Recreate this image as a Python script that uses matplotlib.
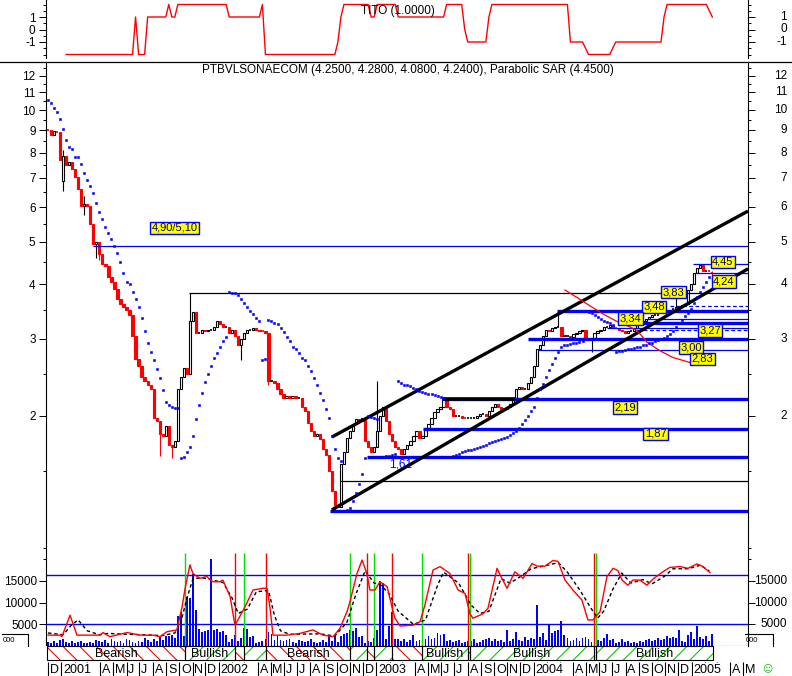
import datetime as dt
import matplotlib
matplotlib.use("Agg")
import matplotlib.pyplot as plt
import matplotlib.transforms as mtransforms
from matplotlib.patches import Rectangle
from matplotlib.lines import Line2D
from matplotlib.ticker import FixedLocator, NullFormatter, NullLocator, FixedFormatter
from matplotlib import font_manager as fm

_names = {f.name for f in fm.fontManager.ttflist}
NARROW = "Liberation Sans Narrow" if "Liberation Sans Narrow" in _names else "Liberation Sans"
plt.rcParams["font.family"] = [NARROW, "DejaVu Sans"]
plt.rcParams["hatch.linewidth"] = 0.8

# ---------------------------------------------------------------- data
start_date = dt.date(2000, 12, 1)          # week index 0 (weekly bars)
end_label_date = dt.date(2005, 5, 1)

closes = [
    9.0, 8.8, 8.95, 8.9, 7.7, 7.85, 7.5, 7.6, 7.35, 7.05,
    6.6, 6.05, 6.1, 6.05, 5.5, 4.95, 5.0, 4.7, 4.45, 4.4,
    4.15, 4.05, 3.9, 3.7, 3.6, 3.55, 3.5, 3.4, 3.05, 2.7,
    2.6, 2.45, 2.4, 2.35, 2.3, 1.98, 1.95, 1.82, 1.8, 1.9,
    1.72, 1.7, 1.75, 2.3, 2.45, 2.57, 2.5, 3.3, 3.45, 3.1,
    3.1, 3.15, 3.12, 3.15, 3.15, 3.2, 3.3, 3.25, 3.2, 3.2,
    3.1, 3.15, 3.05, 2.9, 3.0, 3.1, 3.15, 3.15, 3.17, 3.15,
    3.13, 3.12, 3.1, 2.4, 2.4, 2.38, 2.3, 2.25, 2.2, 2.22,
    2.2, 2.22, 2.2, 2.2, 2.1, 2.05, 1.93, 1.85, 1.8, 1.82,
    1.77, 1.68, 1.63, 1.5, 1.35, 1.25, 1.24, 1.55, 1.65, 1.78,
    1.85, 1.92, 1.97, 1.95, 1.98, 1.75, 1.7, 1.65, 1.7, 1.85,
    2.0, 2.1, 1.95, 1.82, 1.75, 1.7, 1.68, 1.64, 1.68, 1.72,
    1.75, 1.8, 1.85, 1.78, 1.8, 1.88, 1.92, 1.98, 2.04, 2.07,
    2.1, 2.2, 2.1, 2.08, 2.0, 2.0, 2.0, 1.98, 1.97, 1.98,
    1.98, 1.98, 2.0, 2.02, 2.02, 2.0, 2.05, 2.1, 2.13, 2.1,
    2.07, 2.08, 2.1, 2.13, 2.2, 2.3, 2.33, 2.3, 2.31, 2.38,
    2.45, 2.6, 2.85, 2.9, 3.05, 3.15, 3.12, 3.18, 3.2, 3.2,
    3.05, 3.05, 3.05, 3.03, 3.08, 3.1, 3.12, 3.15, 3.0, 3.0,
    3.0, 3.1, 3.12, 3.15, 3.2, 3.2, 3.22, 3.18, 3.17, 3.15,
    3.12, 3.1, 3.12, 3.12, 3.18, 3.22, 3.28, 3.3, 3.33, 3.36,
    3.4, 3.4, 3.42, 3.44, 3.45, 3.47, 3.5, 3.52, 3.55, 3.55,
    3.58, 3.6, 3.88, 4.0, 4.25, 4.35, 4.42, 4.3, 4.3, 4.28,
    4.24,
]
open_overrides = {0: 9.05, 5: 6.9, 220: 4.25}
high_overrides = {5: 8.1, 12: 6.35, 47: 3.83, 109: 2.4, 169: 3.48, 208: 3.83, 216: 4.45, 220: 4.28}
low_overrides = {5: 6.55, 12: 5.75, 16: 4.6, 17: 4.55, 37: 1.62, 41: 1.6, 64: 2.68,
                 73: 2.35, 95: 1.21, 180: 2.8, 220: 4.08}

sar = [
    10.55, 10.4, 10.1, 9.9, 9.55, 9.06, 8.55, 8.24, 8.15, 7.82,
    7.82, 7.53, 7.19, 6.93, 6.71, 6.47, 6.14, 5.85, 5.64, 5.41,
    5.24, 5.08, 4.89, 4.72, 4.50, 4.25, 4.05, 4.0, 3.84, 3.70,
    3.55, 3.35, 3.13, 2.94, 2.80, 2.69, 2.56, 2.44, 2.29, 2.15,
    2.12, 2.10, 2.09, 2.09, 1.60, 1.61, 1.65, 1.70, 1.80, 1.97,
    2.12, 2.26, 2.39, 2.50, 2.60, 2.71, 2.79, 2.88, 2.96, 3.03,
    3.84, 3.83, 3.82, 3.79, 3.70, 3.63, 3.55, 3.47, 3.42, 3.35,
    3.30, 2.69, 2.70, 3.31, 3.30, 3.27, 3.24, 3.18, 3.11, 3.03,
    2.97, 2.88, 2.85, 2.79, 2.72, 2.69, 2.60, 2.53, 2.44, 2.36,
    2.26, 2.18, 2.08, 1.98, 1.80, 1.68, 1.60, 1.58, 1.21, 1.22,
    1.23, 1.28, 1.33, 1.40, 1.47, 1.60, 2.00, 1.99, 1.98, 1.97,
    1.61, 1.61, 1.62, 1.62, 1.63, 1.64, 2.40, 2.38, 2.36, 2.35,
    2.34, 2.32, 2.30, 2.28, 2.27, 2.26, 2.25, 2.24, 2.23, 2.22,
    2.21, 2.20, 1.61, 1.61, 1.62, 1.63, 1.64, 1.65, 1.66, 1.67,
    1.67, 1.68, 1.69, 1.70, 1.71, 1.72, 1.73, 1.74, 1.75, 1.76,
    1.77, 1.78, 1.79, 1.81, 1.83, 1.85, 1.88, 1.92, 1.96, 2.00,
    2.05, 2.10, 2.20, 2.30, 2.37, 2.45, 2.55, 2.63, 2.72, 2.80,
    2.88, 2.90, 2.91, 2.92, 2.93, 2.94, 2.95, 2.96, 3.48, 3.46,
    3.43, 3.40, 3.37, 3.33, 3.30, 3.28, 3.26, 3.23, 2.80, 2.81,
    2.82, 2.83, 2.84, 2.85, 2.86, 2.87, 2.88, 2.90, 2.91, 2.93,
    2.94, 2.96, 2.98, 3.00, 3.02, 3.04, 3.08, 3.12, 3.20, 3.27,
    3.32, 3.38, 3.44, 3.52, 3.62, 3.75, 3.85, 3.95, 4.05, 4.15,
    4.45,
]

volume_k = [
    1.0, 0.8, 1.2, 0.6, 1.4, 1.6, 0.9, 0.7, 1.1, 0.8,
    0.9, 1.2, 0.7, 0.6, 1.0, 0.8, 1.4, 1.1, 0.9, 1.3,
    0.8, 1.5, 1.2, 0.9, 1.1, 0.7, 1.6, 1.3, 1.0, 0.8,
    1.2, 1.0, 1.8, 1.4, 0.9, 1.6, 1.1, 2.0, 1.3, 2.4,
    2.2, 2.6, 1.8, 7.0, 7.9, 2.3, 11.4, 11.1, 16.6, 8.4,
    3.9, 3.3, 3.5, 3.8, 20.0, 3.6, 4.0, 3.2, 3.4, 2.6,
    1.0, 1.5, 2.6, 1.2, 1.8, 4.2, 3.9, 2.0, 2.3, 0.6,
    0.9, 1.2, 1.6, 3.2, 2.8, 1.4, 2.4, 1.3, 1.1, 1.4,
    1.6, 1.0, 0.8, 1.3, 1.2, 0.9, 1.1, 1.6, 1.0, 0.8,
    0.9, 1.3, 1.0, 2.2, 1.1, 2.2, 1.0, 2.3, 2.8, 3.0,
    3.7, 3.4, 4.1, 2.0, 2.2, 0.8, 1.2, 1.0, 1.8, 3.7,
    15.0, 14.6, 1.5, 4.6, 7.8, 1.7, 1.7, 1.2, 1.5, 1.0,
    1.4, 2.5, 1.1, 1.3, 0.9, 1.6, 2.2, 1.5, 1.9, 3.0,
    2.5, 2.7, 1.1, 1.4, 0.9, 1.2, 1.4, 0.8, 1.0, 1.1,
    1.2, 1.6, 0.8, 0.9, 1.3, 1.6, 1.8, 1.1, 1.7, 1.2,
    1.4, 1.0, 3.7, 1.2, 1.6, 3.3, 1.4, 1.1, 2.0, 1.3,
    1.8, 1.5, 9.4, 2.0, 2.9, 1.4, 4.8, 3.1, 3.5, 3.8,
    5.8, 2.5, 1.8, 1.2, 1.4, 1.8, 1.1, 1.9, 2.1, 1.6,
    1.0, 1.2, 1.4, 1.2, 1.8, 2.7, 1.3, 1.6, 0.8, 1.0,
    1.6, 0.9, 1.2, 0.7, 0.9, 0.8, 1.2, 1.0, 1.4, 1.6,
    1.2, 1.4, 1.8, 1.3, 1.5, 2.3, 1.9, 2.1, 1.8, 3.8,
    1.2, 1.0, 2.6, 3.3, 1.5, 4.6, 2.0, 1.7, 2.4, 1.2,
    2.8,
]

tito_first_week = 6
tito = (
    [-2, -2, -2, -2, -2, -2, -2, -2, -2, -2, -2, -2, -2, -2, -2, -2, -2, -2, -2, -2, -2, -2, -2]
    + [1]
    + [-2, -2, -2]
    + [1, 1, 1, 1, 1, 1, 1]
    + [2]
    + [1, 1]
    + [2, 2, 2, 2, 2, 2, 2, 2, 2, 2, 2, 2, 2, 2, 2, 2, 2]
    + [1, 1, 1, 1, 1, 1, 1, 1, 1, 1, 1]
    + [2]
    + [-2, -2, -2, -2, -2, -2, -2, -2, -2, -2, -2, -2, -2, -2, -2, -2, -2, -2, -2, -2, -2, -2, -2, -2]
    + [-1, 1]
    + [2, 2, 2, 2, 2, 2, 2, 2, 2]
    + [1, 1]
    + [2, 2, 2, 2, 2, 2, 2]
    + [1, 1, 1, 1, 1, 1, 1, 1, 1, 1, 1, 1, 1, 1, 1, 1]
    + [2, 2, 2, 2, 2, 2]
    + [0]
    + [-1, -1, -1, -1, -1, -1, -1]
    + [1]
    + [2, 2, 2, 2, 2, 2, 2, 2, 2, 2, 2, 2, 2, 2, 2, 2, 2, 2, 2, 2, 2, 2, 2, 2, 2, 2]
    + [-1, -1, -1, -1, -1]
    + [-1.5]
    + [-2, -2, -2, -2, -2, -2, -2, -2]
    + [-1.5]
    + [-1, -1, -1, -1, -1, -1, -1, -1, -1, -1, -1, -1, -1, -1, -1, -1]
    + [1]
    + [2, 2, 2, 2, 2, 2, 2, 2, 2, 2, 2, 2, 2, 2]
    + [1.5, 1]
)

osc_weeks = [0, 4, 4.6, 7.3, 9.6, 17.2, 18.2, 20.5, 26.2, 30.5, 34.8, 37.1, 39.4, 42.7, 44.4,
             45.4, 47, 48, 50.3, 52.6, 54.6, 56.9, 57.9, 60.3, 61.9, 62.9, 65.2, 67.9, 71.2, 72.5,
             73.5, 74.5, 79.1, 83.4, 87.7, 91.1, 94.4, 96.7, 99, 100, 102.3, 104, 105.6, 106.6, 108.3,
             109.9, 112.3, 113.9, 114.9, 116.6, 120.9, 123.2, 124.8, 127.5, 129.8, 133.1, 135.8, 138.1,
             139.7, 140.7, 144, 145.7, 148.7, 149.7, 152, 154.6, 157.3, 160.3, 161.9, 164.6, 167.2,
             168.9, 171.2, 173.8, 176.8, 178.8, 180.5, 182.8, 185.1, 187.1, 188.7, 190.1, 192, 193.7,
             196, 198.3, 200.3, 203.6, 205.9, 209.3, 211.9, 214.9, 216.9, 219.2]
osc_k = [2.5, 2.5, 2.15, 7.1, 2.5, 2.5, 3.1, 2.15, 3.1, 2.5, 2.5, 2.15, 3.3, 3.7, 9.0,
         13.3, 18.7, 16.7, 15.6, 16.0, 14.8, 14.8, 15.2, 11.4, 4.8, 6.0, 9.0, 12.9, 13.3, 13.3,
         9.0, 2.5, 2.5, 2.9, 3.7, 2.5, 2.15, 4.1, 7.9, 10.2, 16.7, 19.8, 16.7, 12.9, 12.9,
         14.8, 13.7, 9.0, 6.4, 4.6, 4.8, 5.6, 9.4, 17.5, 18.3, 16.7, 12.9, 12.1,
         7.5, 6.4, 7.4, 8.7, 17.9, 16.4, 13.3, 17.1, 15.6, 19.0, 18.4, 18.4, 19.7,
         19.5, 15.2, 12.9, 10.6, 6.0, 6.0, 7.9, 16.0, 17.9, 17.4, 15.2, 14.0, 15.2,
         15.2, 14.0, 15.4, 17.1, 18.1, 18.3, 17.9, 18.9, 18.3, 16.9]
sig_weeks = [0, 5, 8, 10, 13, 17, 20, 26, 31, 38, 42, 44, 46, 48, 51, 54, 58, 61, 63, 66, 69, 73,
             75, 77, 80, 90, 95, 99, 102, 105, 108, 110, 113, 116, 121, 125, 129, 131, 136, 140,
             143, 146, 150, 153, 156, 160, 164, 169, 172, 176, 180, 182, 184, 187, 190, 193, 197,
             200, 204, 207, 212, 216, 219]
sig_k = [3.0, 2.6, 5.0, 6.0, 3.5, 2.6, 2.9, 2.7, 2.6, 2.4, 3.0, 5.5, 11.0, 15.5, 15.7, 15.3, 14.6,
         11.0, 7.5, 8.5, 12.5, 12.8, 7.0, 3.5, 2.7, 2.8, 2.3, 5.5, 12.0, 17.3, 14.5, 14.2, 12.0,
         8.0, 5.0, 6.0, 14.0, 17.0, 14.5, 9.5, 7.5, 8.0, 15.5, 14.5, 15.8, 17.8, 18.4, 19.2, 17.0,
         13.0, 8.5, 6.4, 8.0, 13.0, 16.8, 14.5, 15.3, 14.3, 16.0, 17.8, 17.8, 18.6, 17.3]
osc_band_k = [16.3, 5.0]

band_kind = ["Bearish", "Bullish", "Bearish", "Bullish", "Bearish", "Bullish", "Bearish",
             "Bullish", "Bearish", "Bullish", "Bearish", "Bullish", "Bearish", "Bullish"]
band_start = [-0.3, 45.4, 61.9, 64.9, 72.2, 100.0, 105.6, 108.0, 113.9, 123.8, 139.1, 139.7, 180.8, 181.5]
band_end = [45.4, 61.9, 64.9, 72.2, 100.0, 105.6, 108.0, 113.9, 123.8, 139.1, 139.7, 180.8, 181.5, 220.2]

# horizontal support / resistance levels
level_price = [4.90, 3.83, 1.42, 1.21, 1.61, 1.87, 2.19, 3.00, 2.83, 3.48, 3.34, 3.27, 3.18,
               3.57, 3.14, 4.45, 4.24]
level_start = [14.9, 46.7, 96.7, 93.4, 105.6, 124.2, 130.5, 159.0, 162.3, 168.5, 198.3, 189.4,
               185.1, 206.0, 195.0, 213.6, 214.2]
level_kind = ["thin", "black", "black", "thick", "thick", "thick", "thick", "thick", "thin",
              "thick", "thin", "thick", "thin", "dash", "dash", "thin", "thin"]
black_seg_price, black_seg_from, black_seg_to = 2.19, 130.8, 154.6

channel_weeks = [94.0, 231.8]
channel_upper = [1.79, 5.88]
channel_lower = [1.22, 4.34]

curve_weeks = [171.2, 175.5, 179.5, 183.5, 188.0, 192.0, 195.0, 198.3, 202.6, 207.0, 212.6, 216.0, 219.2]
curve_prices = [3.88, 3.72, 3.57, 3.43, 3.30, 3.21, 3.14, 2.95, 2.82, 2.72, 2.65, 2.62, 2.62]

label_texts = ["4,90/5,10", "4,45", "4,24", "3,83", "3,48", "3,34", "3,27", "3,00", "2,83", "2,19", "1,87"]
label_weeks = [41.9, 223.5, 223.8, 207.1, 200.7, 192.9, 219.2, 212.9, 216.7, 191.1, 201.2]
label_prices = [5.38, 4.50, 4.06, 3.84, 3.55, 3.34, 3.14, 2.87, 2.70, 2.09, 1.82]
plain_label = ("1,61", 116.7, 1.55)

price_ticks = [2, 3, 4, 5, 6, 7, 8, 9, 10, 11, 12]
price_minor = [1.5, 2.5, 3.5, 4.5, 5.5, 6.5, 7.5, 8.5, 9.5, 10.5, 11.5, 12.5]
vol_ticks = [5000, 10000, 15000]
tito_ticks = [1, 0, -1]

title_main = "PTBVLSONAECOM (4.2500, 4.2800, 4.0800, 4.2400), Parabolic SAR (4.4500)"
title_tito = "TITO (1.0000)"

# ---------------------------------------------------------------- layout
W, H = 792, 676
fig = plt.figure(figsize=(W / 100, H / 100), dpi=100)


def rect(x0, y0, x1, y1):
    return [x0 / W, 1 - y1 / H, (x1 - x0) / W, (y1 - y0) / H]


ax_t = fig.add_axes(rect(46, 0, 748, 58))
ax = fig.add_axes(rect(46, 62, 748, 548))
ax_v = fig.add_axes(rect(46, 548, 748, 646))
ax_b = fig.add_axes(rect(46, 646, 748, 660))
ax_m = fig.add_axes(rect(46, 660, 748, 676))
XLIM = (-0.66, 231.8)
for a in (ax_t, ax, ax_v, ax_b, ax_m):
    a.set_xlim(*XLIM)
    a.xaxis.set_major_locator(NullLocator())
    a.xaxis.set_minor_locator(NullLocator())
    for s in a.spines.values():
        s.set_linewidth(0.8)

for a in (ax_t, ax, ax_v):
    a.spines["top"].set_visible(False)
    a.spines["bottom"].set_visible(False)
ax_v.spines["bottom"].set_visible(True)
ax_m.set_axis_off()
ax_b.set_ylim(0, 1)
ax_b.yaxis.set_major_locator(NullLocator())
for s in ax_b.spines.values():
    s.set_visible(False)

RIGHT_LABEL_X = 787 / W
TICK_FS = 8.5


def right_labels(a, values, texts):
    tr = mtransforms.blended_transform_factory(fig.transFigure, a.transData)
    for v, t in zip(values, texts):
        a.text(RIGHT_LABEL_X, v, t, transform=tr, ha="right", va="center",
               fontsize=TICK_FS, clip_on=False)


def style_y(a):
    a.tick_params(axis="y", which="both", left=True, right=True, labelleft=True,
                  labelright=False, direction="out", width=0.7, labelsize=TICK_FS)
    a.tick_params(axis="y", which="major", length=5, pad=2.5)
    a.tick_params(axis="y", which="minor", length=2.5)


# ---------------------------------------------------------------- TITO panel
tito_weeks = list(range(tito_first_week, tito_first_week + len(tito)))
ax_t.plot(tito_weeks, tito, color="red", lw=1.0)
ax_t.set_ylim(-2.28, 2.36)
ax_t.yaxis.set_major_locator(FixedLocator(tito_ticks))
ax_t.yaxis.set_major_formatter(FixedFormatter([str(t) for t in tito_ticks]))
ax_t.yaxis.set_minor_locator(FixedLocator([-2, -1.5, -0.5, 0.5, 1.5, 2]))
style_y(ax_t)
right_labels(ax_t, tito_ticks, [str(t) for t in tito_ticks])
fig.text(361 / W, 1 - 11 / H, title_tito, fontsize=8.5, ha="left", va="center")

# ---------------------------------------------------------------- price panel
ax.set_yscale("log")
ax.set_ylim(0.998, 12.89)
ax.yaxis.set_major_locator(FixedLocator(price_ticks))
ax.yaxis.set_major_formatter(FixedFormatter([str(t) for t in price_ticks]))
ax.yaxis.set_minor_locator(FixedLocator(price_minor))
ax.yaxis.set_minor_formatter(NullFormatter())
style_y(ax)
right_labels(ax, price_ticks, [str(t) for t in price_ticks])

# candles
opens = [closes[0]] + closes[:-1]
for k, v in open_overrides.items():
    opens[k] = v
CW = 0.75
for i, (o, c) in enumerate(zip(opens, closes)):
    hi = high_overrides.get(i, max(o, c))
    lo = low_overrides.get(i, min(o, c))
    up = c >= o
    col = "black" if up else "red"
    if hi > max(o, c) or lo < min(o, c):
        ax.vlines(i, lo, hi, colors=col, lw=0.8, zorder=2)
    bot, top = min(o, c), max(o, c)
    if top / bot < 1.006:
        ax.hlines((o + c) / 2, i - CW / 2, i + CW / 2, colors=col, lw=1.2, zorder=2)
    else:
        ax.add_patch(Rectangle((i - CW / 2, bot), CW, top - bot,
                               facecolor="white" if up else "red",
                               edgecolor="black" if up else "red", lw=0.8, zorder=2))

# horizontal levels
for p, s, kind in zip(level_price, level_start, level_kind):
    if kind == "thick":
        ax.hlines(p, s, XLIM[1], colors="blue", lw=2.4, zorder=3)
    elif kind == "thin":
        ax.hlines(p, s, XLIM[1], colors="blue", lw=0.9, zorder=3)
    elif kind == "dash":
        ax.hlines(p, s, XLIM[1], colors="blue", lw=0.9, linestyles=(0, (3, 2)), zorder=3)
    else:
        ax.hlines(p, s, XLIM[1], colors="black", lw=0.9, zorder=3)
ax.hlines(black_seg_price, black_seg_from, black_seg_to, colors="black", lw=2.6, zorder=3)

# trend channel
ax.plot(channel_weeks, channel_upper, color="black", lw=2.4, zorder=4, solid_capstyle="butt")
ax.plot(channel_weeks, channel_lower, color="black", lw=2.4, zorder=4, solid_capstyle="butt")

# red arc
ax.plot(curve_weeks, curve_prices, color="red", lw=0.9, zorder=4)

# parabolic SAR
ax.plot(range(len(sar)), sar, linestyle="none", marker="s", ms=2.0, mew=0.4, color="blue",
        mec="blue", zorder=5)

# value labels
for t, w, p in zip(label_texts, label_weeks, label_prices):
    ax.text(w, p, t, ha="center", va="center", fontsize=8, color="#000060", zorder=7,
            clip_on=False,
            bbox=dict(boxstyle="square,pad=0.12", fc="yellow", ec="blue", lw=1.0))
ax.text(plain_label[1], plain_label[2], plain_label[0], ha="center", va="center",
        fontsize=8.5, color="blue", zorder=7)

fig.text(202 / W, 1 - 70 / H, title_main, fontsize=8.5, ha="left", va="center")
fig.add_artist(Line2D([0, 1], [1 - 62 / H, 1 - 62 / H], transform=fig.transFigure,
                      color="black", lw=0.9))

# ---------------------------------------------------------------- volume / oscillator panel
ax_v.set_ylim(0, 22580)
ax_v.bar(range(len(volume_k)), [v * 1000 for v in volume_k], width=0.6, color="blue",
         lw=0, zorder=2)
for lvl in osc_band_k:
    ax_v.axhline(lvl * 1000, color="blue", lw=1.0, zorder=3)
for kind, s in zip(band_kind[1:], band_start[1:]):
    ax_v.vlines(s, 0, 21500, colors="red" if kind == "Bearish" else "#00e000", lw=1.0, zorder=3)
ax_v.plot(sig_weeks, [v * 1000 for v in sig_k], color="black", lw=1.0,
          linestyle=(0, (2.5, 2)), zorder=4)
ax_v.plot(osc_weeks, [v * 1000 for v in osc_k], color="red", lw=1.0, zorder=5)
ax_v.yaxis.set_major_locator(FixedLocator(vol_ticks))
ax_v.yaxis.set_major_formatter(FixedFormatter([str(t) for t in vol_ticks]))
ax_v.yaxis.set_minor_locator(FixedLocator([20000, 22500]))
ax_v.yaxis.set_minor_formatter(NullFormatter())
style_y(ax_v)
ax_v.tick_params(axis="y", which="major", pad=1)
right_labels(ax_v, vol_ticks, [str(t) for t in vol_ticks])

# thousands markers
for xa, xb in ((2, 28), (745, 773)):
    fig.add_artist(Line2D([xa / W, xb / W, xb / W], [1 - 634 / H, 1 - 634 / H, 1 - 646 / H],
                          transform=fig.transFigure, color="black", lw=0.8))
    fig.text((xa + 1) / W, 1 - 640 / H, "000", fontsize=5.5, ha="left", va="center")

# ---------------------------------------------------------------- signal band
for kind, a, b in zip(band_kind, band_start, band_end):
    col = "red" if kind == "Bearish" else "#00cc00"
    hatch = "\\\\" if kind == "Bearish" else "//"
    ax_b.add_patch(Rectangle((a, 0), b - a, 1, facecolor="white", edgecolor=col,
                             hatch=hatch, lw=0, zorder=1))
    ax_b.add_patch(Rectangle((a, 0), b - a, 1, fill=False, edgecolor="black", lw=0.8,
                             zorder=2, clip_on=False))
    if b - a > 10:
        ax_b.text((a + b) / 2, 0.45, kind, ha="center", va="center", fontsize=9, zorder=3)

# ---------------------------------------------------------------- month row
month_letters = "JFMAMJJASOND"
d = start_date
while d <= end_label_date:
    x = (d - start_date).days / 7.0
    ax_m.vlines(x, 0.0, 0.85, colors="black", lw=0.8)
    if d.month == 1:
        ax_m.text(x + 0.6, 0.4, str(d.year), ha="left", va="center", fontsize=9,
                  bbox=dict(boxstyle="square,pad=0.05", fc="white", ec="none"))
    elif d.month not in (2, 3):
        ax_m.text(x + 0.6, 0.4, month_letters[d.month - 1], ha="left", va="center", fontsize=9)
    d = dt.date(d.year + (d.month // 12), d.month % 12 + 1, 1)
ax_m.set_ylim(0, 1)

fig.text(767 / W, 1 - 668 / H, "\u263a", color="#00c000", fontsize=7, ha="center",
         va="center", family="DejaVu Sans")

fig.savefig("out.png", dpi=100)
